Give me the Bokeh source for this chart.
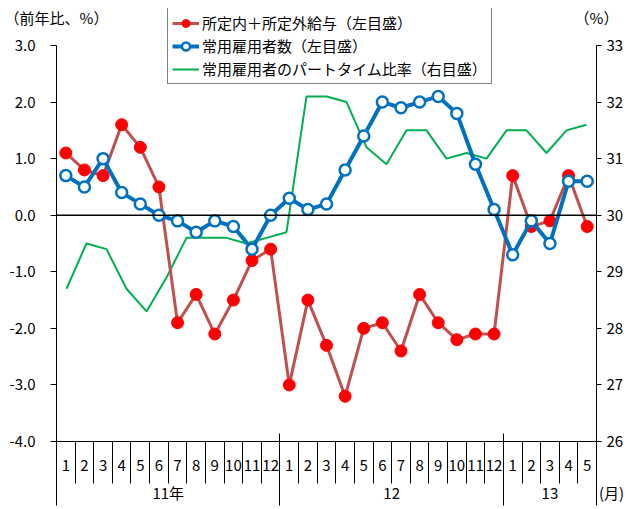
from bokeh.plotting import figure
from bokeh.models import (Range1d, LinearAxis, FixedTicker, Span, Legend, LegendItem,
                          ColumnDataSource)
from bokeh.embed import file_html
from bokeh.resources import INLINE

# ---------------- data ----------------
months = ["1", "2", "3", "4", "5", "6", "7", "8", "9", "10", "11", "12",
          "1", "2", "3", "4", "5", "6", "7", "8", "9", "10", "11", "12",
          "1", "2", "3", "4", "5"]
years = ["11年", "12", "13"]
year_lengths = [12, 12, 5]

wage = [1.1, 0.8, 0.7, 1.6, 1.2, 0.5, -1.9, -1.4, -2.1, -1.5, -0.8, -0.6,
        -3.0, -1.5, -2.3, -3.2, -2.0, -1.9, -2.4, -1.4, -1.9, -2.2, -2.1, -2.1,
        0.7, -0.2, -0.1, 0.7, -0.2]
employees = [0.7, 0.5, 1.0, 0.4, 0.2, 0.0, -0.1, -0.3, -0.1, -0.2, -0.6, 0.0,
             0.3, 0.1, 0.2, 0.8, 1.4, 2.0, 1.9, 2.0, 2.1, 1.8, 0.9, 0.1,
             -0.7, -0.1, -0.5, 0.6, 0.6]
part_time = [28.7, 29.5, 29.4, 28.7, 28.3, 28.9, 29.6, 29.6, 29.6, 29.5, 29.6, 29.7,
             32.1, 32.1, 32.0, 31.2, 30.9, 31.5, 31.5, 31.0, 31.1, 31.0, 31.5, 31.5,
             31.1, 31.5, 31.6]

left_ticks = [-4, -3, -2, -1, 0, 1, 2, 3]
left_tick_labels = ["-4.0", "-3.0", "-2.0", "-1.0", "0.0", "1.0", "2.0", "3.0"]
right_ticks = [26, 27, 28, 29, 30, 31, 32, 33]
right_tick_labels = ["26", "27", "28", "29", "30", "31", "32", "33"]

series_names = ["所定内＋所定外給与（左目盛）", "常用雇用者数（左目盛）",
                "常用雇用者のパートタイム比率（右目盛）"]
left_title = "（前年比、%）"
right_title = "（%）"
month_unit = "\u3000\u3000(月)"

FONT = "Noto Sans CJK JP"

# ---------------- layout geometry ----------------
FRAME_TOP, FRAME_H = 8, 433          # frame reaches above the 3.0 tick to hold the legend
AXIS_H = 396                         # pixel height of the -4 .. 3 scale
y_lo, y_hi = left_ticks[0], left_ticks[-1]
y_top = y_hi + (FRAME_H - AXIS_H) * (y_hi - y_lo) / AXIS_H
r_lo, r_hi = right_ticks[0], right_ticks[-1]
r_top = r_hi + (y_top - y_hi) * (r_hi - r_lo) / (y_hi - y_lo)

n = len(months)
xs = [i + 0.5 for i in range(n)]
ng = len(part_time)
xg = [k + 0.5 for k in range(ng)]

p = figure(width=630, height=509, output_backend="svg", toolbar_location=None,
           x_range=Range1d(0, n), y_range=Range1d(y_lo, y_top), x_axis_type=None,
           min_border_left=56, min_border_right=34, min_border_top=FRAME_TOP,
           min_border_bottom=68)
p.outline_line_color = None
p.xgrid.visible = False
p.ygrid.visible = False
p.extra_y_ranges = {"right": Range1d(r_lo, r_top)}
p.extra_x_ranges = {"green": Range1d(0, ng), "unit": Range1d(0, 1)}

# left axis
ya = p.yaxis[0]
ya.ticker = FixedTicker(ticks=left_ticks)
ya.bounds = (y_lo, y_hi)
ya.major_label_overrides = dict(zip(left_ticks, left_tick_labels))
ya.major_tick_out = 6
ya.major_tick_in = 0
ya.minor_tick_line_color = None
ya.axis_line_color = "black"
ya.major_tick_line_color = "black"
ya.major_label_text_font = FONT
ya.major_label_text_font_size = "15px"
ya.major_label_text_color = "black"
ya.major_label_standoff = 15

# right axis
ra = LinearAxis(y_range_name="right", ticker=FixedTicker(ticks=right_ticks),
                bounds=(r_lo, r_hi))
ra.major_label_overrides = dict(zip(right_ticks, right_tick_labels))
ra.major_tick_out = 5
ra.major_tick_in = 0
ra.minor_tick_line_color = None
ra.axis_line_color = "black"
ra.major_label_text_font = FONT
ra.major_label_text_font_size = "15px"
ra.major_label_text_color = "black"
ra.major_label_standoff = 5
p.add_layout(ra, "right")

# month axis
bounds = list(range(n + 1))
xa1 = LinearAxis(ticker=FixedTicker(ticks=xs, minor_ticks=bounds))
xa1.major_label_overrides = dict(zip(xs, months))
xa1.major_tick_out = 0
xa1.major_tick_in = 0
xa1.minor_tick_out = 42
xa1.minor_tick_in = 0
xa1.minor_tick_line_color = "black"
xa1.axis_line_color = "black"
xa1.major_label_text_font = FONT
xa1.major_label_text_font_size = "15px"
xa1.major_label_text_color = "black"
xa1.major_label_standoff = -24
p.add_layout(xa1, "below")

# year axis (+ month unit label at the right end)
ybounds = [0]
for L in year_lengths:
    ybounds.append(ybounds[-1] + L)
ycent = [(ybounds[i] + ybounds[i + 1]) / 2 for i in range(len(years))]
xa2 = LinearAxis(ticker=FixedTicker(ticks=ycent + [n], minor_ticks=ybounds))
xa2.major_label_overrides = dict(zip(ycent + [n], years + [month_unit]))
xa2.major_tick_out = 0
xa2.major_tick_in = 0
xa2.minor_tick_out = 32
xa2.minor_tick_in = 40
xa2.minor_tick_line_color = "black"
xa2.axis_line_color = None
xa2.major_label_text_font = FONT
xa2.major_label_text_font_size = "15px"
xa2.major_label_text_color = "black"
xa2.major_label_standoff = -24
p.add_layout(xa2, "below")

# unit titles as labels of a bare top axis
ta = LinearAxis(x_range_name="unit", ticker=FixedTicker(ticks=[0, 1]))
ta.major_label_overrides = {0: left_title, 1: right_title}
ta.axis_line_color = None
ta.major_tick_line_color = None
ta.minor_tick_line_color = None
ta.major_tick_out = 0
ta.major_tick_in = 0
ta.major_label_text_font = FONT
ta.major_label_text_font_size = "15px"
ta.major_label_text_color = "black"
ta.major_label_standoff = -19
p.add_layout(ta, "above")

p.add_layout(Span(location=0, dimension="width", line_color="black", line_width=1.5))

# series
src = ColumnDataSource(dict(x=xs, wage=wage, emp=employees))
gsrc = ColumnDataSource(dict(x=xg, pt=part_time))

g_line = p.line("x", "pt", source=gsrc, x_range_name="green", y_range_name="right",
                line_color="#00B050", line_width=2)
r_line = p.line("x", "wage", source=src, line_color="#C0504D", line_width=3)
r_pts = p.scatter("x", "wage", source=src, size=12, fill_color="#FF0000",
                  line_color="#FF0000", line_width=1)
b_line = p.line("x", "emp", source=src, line_color="#0070C0", line_width=4)
b_pts = p.scatter("x", "emp", source=src, size=11, fill_color="white",
                  line_color="#0070C0", line_width=2.5)

legend = Legend(items=[
    LegendItem(label=series_names[0], renderers=[r_line, r_pts]),
    LegendItem(label=series_names[1], renderers=[b_line, b_pts]),
    LegendItem(label=series_names[2], renderers=[g_line]),
], location=(111, 357))
legend.label_text_font = FONT
legend.label_text_font_size = "15px"
legend.label_text_color = "black"
legend.glyph_width = 27
legend.glyph_height = 20
legend.label_height = 20
legend.spacing = 2
legend.padding = 4
legend.margin = 0
legend.label_standoff = 3
legend.border_line_color = "black"
legend.border_line_width = 1
legend.background_fill_alpha = 1
p.add_layout(legend, "center")

open("out.html", "w").write(file_html(p, INLINE))
